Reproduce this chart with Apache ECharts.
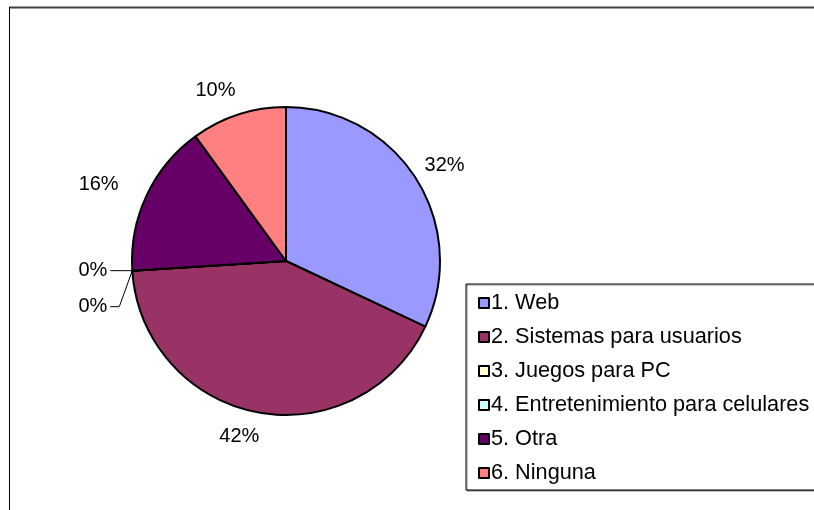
<!DOCTYPE html>
<html>
<head>
<meta charset="utf-8">
<script src="https://cdn.jsdelivr.net/npm/echarts@6/dist/echarts.min.js"></script>
<style>
  html, body { margin: 0; padding: 0; background: #ffffff; }
  #chart { width: 814px; height: 510px; }
</style>
</head>
<body>
<div id="chart"></div>
<script>
// Survey answers: preferred kind of software to develop
const categories = [
  '1. Web',
  '2. Sistemas para usuarios',
  '3. Juegos para PC',
  '4. Entretenimiento para celulares',
  '5. Otra',
  '6. Ninguna'
];
const shares = [32, 42, 0, 0, 16, 10];
const sliceColors = ['#9999FF', '#993366', '#FFFFCC', '#CCFFFF', '#660066', '#FF8080'];

// Pie geometry (pixels)
const CX = 286, CY = 261, R = 154;
const FONT = 'Arial, "Liberation Sans", sans-serif';

const total = shares.reduce((a, b) => a + b, 0);
const midAngles = [];
let acc = 0;
shares.forEach(v => { midAngles.push((acc + v / 2) / total * 2 * Math.PI); acc += v; });
const zeroRank = {};
let zc = 0;
shares.forEach((v, i) => { if (v === 0) zeroRank[i] = zc++; });

// Places each percentage label just outside its slice along the slice's mid angle
// (left-half labels sit a little further out); empty slices get stacked labels
// with leader lines.
function placeLabel(params) {
  const i = params.dataIndex;
  const a = midAngles[i];
  const dx = Math.sin(a), dy = -Math.cos(a);
  const w = params.labelRect.width, h = params.labelRect.height;
  if (shares[i] === 0) {
    const ex = CX + R * dx, ey = CY + R * dy;
    const k = zeroRank[i];
    const y = ey + k * 36;
    const end = ex - 22;
    const pts = k === 0
      ? [[ex, ey], [end + 11, y], [end, y]]
      : [[ex, ey], [ex - 13, y], [end, y]];
    return { x: end - 3, y: y, align: 'right', verticalAlign: 'middle', labelLinePoints: pts };
  }
  const gap = 15;
  const shiftX = dx < 0 ? -(10 + 7 * Math.abs(dx)) : -1;
  return {
    x: CX + (R + gap) * dx + dx * w / 2 + shiftX,
    y: CY + (R + gap) * dy + dy * h / 2,
    align: 'center',
    verticalAlign: 'middle'
  };
}

const chart = echarts.init(document.getElementById('chart'), null, { renderer: 'canvas' });

chart.setOption({
  animation: false,
  backgroundColor: '#ffffff',
  color: sliceColors,
  graphic: [
    { type: 'line', z: 100, shape: { x1: 9, y1: 7.5, x2: 814, y2: 7.5 },
      style: { stroke: '#404040', lineWidth: 2 } },
    { type: 'line', z: 100, shape: { x1: 9.5, y1: 7, x2: 9.5, y2: 510 },
      style: { stroke: '#000000', lineWidth: 1 } }
  ],
  legend: {
    orient: 'vertical',
    left: 466,
    top: 284,
    padding: [8, 30, 6, 12],
    itemGap: 12,
    itemWidth: 10,
    itemHeight: 10,
    icon: 'rect',
    borderColor: '#000000',
    borderWidth: 1,
    backgroundColor: '#ffffff',
    shadowColor: 'rgba(0,0,0,0.45)',
    shadowOffsetX: 1,
    shadowOffsetY: 1,
    shadowBlur: 0,
    itemStyle: { borderColor: '#000000', borderWidth: 2 },
    textStyle: { fontFamily: FONT, fontSize: 21.7, color: '#000000', padding: [0, 0, 0, -3] },
    data: categories
  },
  series: [{
    type: 'pie',
    center: [CX, CY],
    radius: R,
    startAngle: 90,
    clockwise: true,
    avoidLabelOverlap: false,
    minAngle: 0,
    itemStyle: { borderColor: '#000000', borderWidth: 2 },
    emphasis: { disabled: true },
    label: {
      show: true,
      position: 'outside',
      fontFamily: FONT,
      fontSize: 20,
      color: '#000000',
      formatter: p => Math.round(p.percent) + '%'
    },
    labelLine: { show: false, lineStyle: { color: '#000000', width: 1 } },
    labelLayout: placeLabel,
    data: categories.map((name, i) => ({
      name: name,
      value: shares[i],
      labelLine: { show: shares[i] === 0, lineStyle: { color: '#000000', width: 1 } }
    }))
  }]
});
</script>
</body>
</html>
